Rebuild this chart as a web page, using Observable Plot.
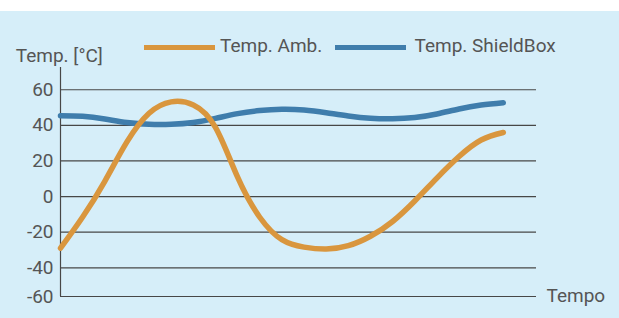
<!DOCTYPE html>
<html>
<head>
<meta charset="utf-8">
<script src="https://cdn.jsdelivr.net/npm/d3@7"></script>
<script src="https://cdn.jsdelivr.net/npm/@observablehq/plot@0.6"></script>
<style>
  html, body { margin: 0; padding: 0; background: #ffffff; }
  #wrap { position: relative; width: 619px; height: 318px; overflow: hidden; background: #ffffff; }
  #panel { position: absolute; left: 0; top: 11px; width: 619px; height: 307px; background: #d6eef9; }
  .lbl { position: absolute; font-family: Roboto, sans-serif; font-size: 19px; line-height: 19px; color: #555; white-space: nowrap; }
  .sw { position: absolute; height: 5.5px; }
</style>
</head>
<body>
<div id="wrap">
  <div id="panel"></div>
  <div id="chart" style="position:absolute;left:0;top:11px;"></div>
  <div class="lbl" id="ylab" style="left:15.8px;top:45.7px;"></div>
  <div class="sw" id="sw0" style="left:144px;top:44.5px;width:71px;"></div>
  <div class="lbl" id="lg0" style="left:220px;top:36.3px;"></div>
  <div class="sw" id="sw1" style="left:335px;top:44.5px;width:71px;"></div>
  <div class="lbl" id="lg1" style="left:414.5px;top:36.3px;"></div>
</div>
<script>
// ---- data ----
const time = [0,1,2,3,4,5,6,7,8,9,10,11,12,13,14,15,16,17,18,19,20];
const tempAmb = [-29,-11.5,8.6,30.7,46.8,53.2,51.5,38.9,10.9,-11.6,-24.2,-28.4,-29.5,-27.6,-22.3,-14,-2.5,10.4,22.5,31.8,36];
const tempShield = [45.4,45.1,43.6,41.6,40.6,40.6,41.6,43.9,46.6,48.3,49,48.6,47.1,45.3,44,43.7,44.4,46.4,49.2,51.4,52.7];
const seriesNames = ["Temp. Amb.", "Temp. ShieldBox"];
const seriesColors = ["#d9963e", "#3f7dac"];
const yTicks = [-60,-40,-20,0,20,40,60];
const yAxisTitle = "Temp. [°C]";
const xAxisTitle = "Tempo";
const xEnd = 21.5;
const yAxisTop = 72.5;
// the source chart squeezes the lowest band (-60 to -40)
const lowBandFactor = 0.806;
const yWarp = v => (v < -40 ? -40 + (v + 40) * lowBandFactor : v);

document.getElementById("ylab").textContent = yAxisTitle;
document.getElementById("lg0").textContent = seriesNames[0];
document.getElementById("lg1").textContent = seriesNames[1];
document.getElementById("sw0").style.background = seriesColors[0];
document.getElementById("sw1").style.background = seriesColors[1];

const rowsAmb = time.map((t, i) => ({t, v: tempAmb[i]}));
const rowsShield = time.map((t, i) => ({t, v: tempShield[i]}));

const chart = Plot.plot({
  width: 619,
  height: 307,
  marginLeft: 60,
  marginRight: 83,
  marginTop: 56,
  marginBottom: 22,
  style: {background: "transparent", fontFamily: "Roboto, sans-serif", fontSize: "19px", color: "#555", overflow: "visible"},
  x: {domain: [0, xEnd], axis: null},
  y: {transform: yWarp, domain: [yWarp(-60), yAxisTop], axis: null},
  marks: [
    Plot.ruleY(yTicks, {stroke: "#474747", strokeWidth: 1.2}),
    Plot.ruleX([0], {y1: -60, y2: yAxisTop, stroke: "#474747", strokeWidth: 1.2}),
    Plot.text(yTicks, {x: 0, y: d => d, text: d => String(d), dx: -7, textAnchor: "end", fill: "#555", fontSize: 19}),
    Plot.line(rowsShield, {x: "t", y: "v", stroke: seriesColors[1], strokeWidth: 5.5, curve: "natural"}),
    Plot.line(rowsAmb, {x: "t", y: "v", stroke: seriesColors[0], strokeWidth: 5.5, curve: "natural"}),
    Plot.text([xAxisTitle], {x: xEnd, y: -60, text: d => d, dx: 10, dy: -1, textAnchor: "start", fill: "#555", fontSize: 19})
  ]
});
document.getElementById("chart").appendChild(chart);
</script>
</body>
</html>
